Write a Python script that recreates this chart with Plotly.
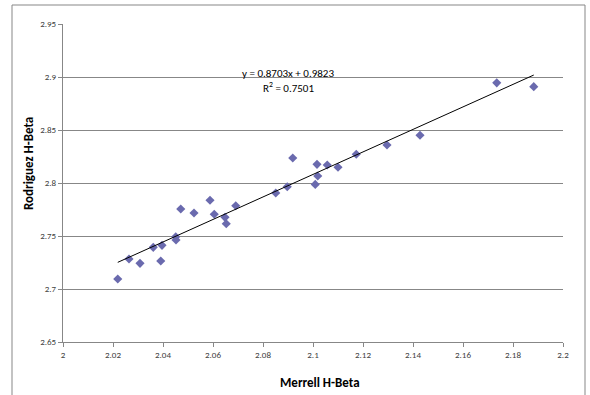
import numpy as np
import plotly.graph_objects as go

merrell = [2.0219, 2.0264, 2.0308, 2.0361, 2.0396, 2.0391, 2.0451, 2.0452, 2.0471,
           2.0524, 2.0588, 2.0605, 2.0648, 2.0653, 2.0691, 2.0851, 2.0897, 2.0919,
           2.1016, 2.1019, 2.1009, 2.1057, 2.1100, 2.1173, 2.1296, 2.1428, 2.1735, 2.1883]
rodriguez = [2.7094, 2.7283, 2.7242, 2.7393, 2.7412, 2.7264, 2.7493, 2.7462, 2.7755,
             2.7717, 2.7837, 2.7705, 2.7676, 2.7616, 2.7786, 2.7906, 2.7965, 2.8236,
             2.8176, 2.8066, 2.7987, 2.8170, 2.8148, 2.8271, 2.8358, 2.8450, 2.8945, 2.8909]
x_ticks = [2, 2.02, 2.04, 2.06, 2.08, 2.1, 2.12, 2.14, 2.16, 2.18, 2.2]
x_tick_text = ["2", "2.02", "2.04", "2.06", "2.08", "2.1", "2.12", "2.14", "2.16", "2.18", "2.2"]
y_ticks = [2.65, 2.7, 2.75, 2.8, 2.85, 2.9, 2.95]
y_tick_text = ["2.65", "2.7", "2.75", "2.8", "2.85", "2.9", "2.95"]
eq_text = "y = 0.8703x + 0.9823"
r2_text = "R<sup>2</sup> = 0.7501"

FONT = "Carlito, Calibri, Lato, sans-serif"

slope, intercept = np.polyfit(merrell, rodriguez, 1)
tx = np.array([min(merrell), max(merrell)])
ty = slope * tx + intercept

fig = go.Figure()
fig.add_trace(go.Scatter(x=merrell, y=rodriguez, mode="markers",
                         marker=dict(symbol="diamond", size=7, color="#6A6AAE",
                                     line=dict(width=0)),
                         showlegend=False, hoverinfo="skip"))
fig.add_trace(go.Scatter(x=tx, y=ty, mode="lines",
                         line=dict(color="black", width=1),
                         showlegend=False, hoverinfo="skip"))

fig.update_layout(
    width=590, height=395,
    margin=dict(l=63, r=27, t=24, b=53),
    paper_bgcolor="white", plot_bgcolor="white",
    font=dict(family=FONT, color="#404040", size=9),
    xaxis=dict(range=[2, 2.2], tickvals=x_ticks, ticktext=x_tick_text,
               showgrid=False, zeroline=False, showline=True, linecolor="#878787",
               linewidth=1, ticks="outside", ticklen=4, tickcolor="#878787",
               tickfont=dict(size=9, color="#404040")),
    yaxis=dict(range=[2.65, 2.95], tickvals=y_ticks, ticktext=y_tick_text,
               showgrid=True, gridcolor="#878787", gridwidth=1, zeroline=False,
               showline=True, linecolor="#878787", linewidth=1,
               ticks="outside", ticklen=4, tickcolor="#878787",
               tickfont=dict(size=9, color="#404040")),
    annotations=[
        dict(text=eq_text, x=(288 - 63) / 500, y=1 - (74 - 24) / 318,
             xref="paper", yref="paper", showarrow=False,
             xanchor="center", yanchor="middle",
             font=dict(size=11, color="black", family=FONT)),
        dict(text=r2_text, x=(288 - 63) / 500, y=1 - (88 - 24) / 318,
             xref="paper", yref="paper", showarrow=False,
             xanchor="center", yanchor="middle",
             font=dict(size=11, color="black", family=FONT)),
        dict(text="<b>Merrell H-Beta</b>", x=(320 - 63) / 500, y=-(382 - 342) / 318,
             xref="paper", yref="paper", showarrow=False,
             xanchor="center", yanchor="middle",
             font=dict(size=13, color="black", family=FONT)),
        dict(text="<b>Rodriguez H-Beta</b>", x=(28 - 63) / 500, y=1 - (164 - 24) / 318,
             xref="paper", yref="paper", showarrow=False, textangle=-90,
             xanchor="center", yanchor="middle",
             font=dict(size=13, color="black", family=FONT)),
    ],
    shapes=[
        dict(type="rect", xref="paper", yref="paper",
             x0=(12 - 63) / 500, x1=(585 - 63) / 500,
             y0=-(420 - 342) / 318, y1=1 + (24 - 5) / 318,
             line=dict(color="#878787", width=1), fillcolor="rgba(0,0,0,0)",
             layer="below"),
    ],
)

fig.write_html("out.html")
